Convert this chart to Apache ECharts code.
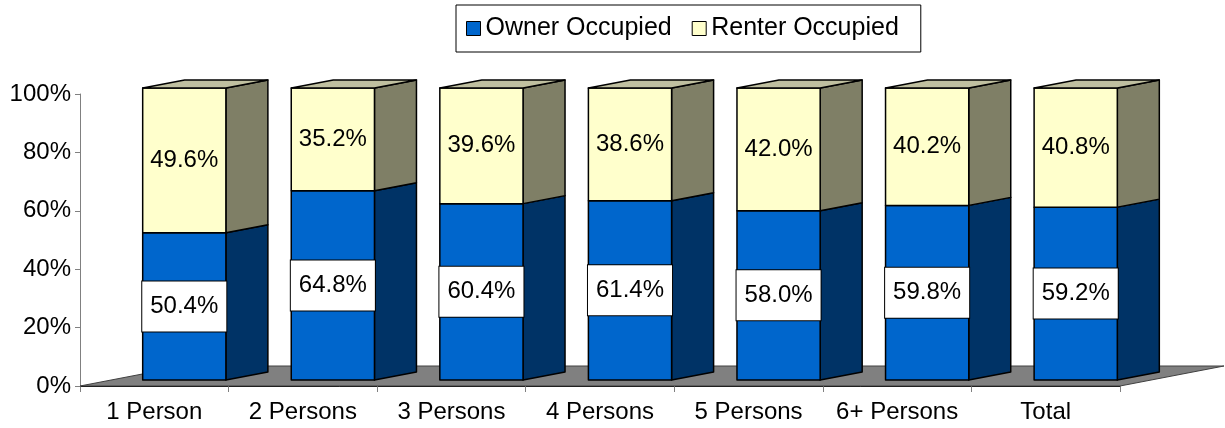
<!DOCTYPE html>
<html>
<head>
<meta charset="utf-8">
<script src="https://cdn.jsdelivr.net/npm/echarts@6/dist/echarts.min.js"></script>
<style>
html,body{margin:0;padding:0;background:#fff;}
#chart{width:1225px;height:428px;}
</style>
</head>
<body>
<div id="chart"></div>
<script>
const categories = ['1 Person', '2 Persons', '3 Persons', '4 Persons', '5 Persons', '6+ Persons', 'Total'];
const ownerValues = [50.4, 64.8, 60.4, 61.4, 58.0, 59.8, 59.2];
const renterValues = [49.6, 35.2, 39.6, 38.6, 42.0, 40.2, 40.8];
const seriesNames = ['Owner Occupied', 'Renter Occupied'];
const yTicks = [0, 20, 40, 60, 80, 100];

const FONT = '"Liberation Sans", Arial, sans-serif';
const BAR_FRAC = 0.56;
const SHIFT_X = 30;
const SHIFT_Y = -6;
const DX = 42, DY = -8;
const FLOOR_DX = 104, FLOOR_DY = -20;

const chart = echarts.init(document.getElementById('chart'), null, {renderer: 'canvas'});

function makeBar(colors, withTop, boxed) {
  return function (params, api) {
    const i = api.value(0), lo = api.value(1), hi = api.value(2), v = api.value(3);
    const base = api.coord([i, lo]);
    const top = api.coord([i, hi]);
    const band = api.size([1, 0])[0];
    const w = band * BAR_FRAC;
    const x0 = base[0] - w / 2 + SHIFT_X, x1 = x0 + w;
    const yb = base[1] + SHIFT_Y, yt = top[1] + SHIFT_Y;
    const stroke = {stroke: '#000', lineWidth: 1.5, lineJoin: 'round'};
    const children = [
      {type: 'polygon', shape: {points: [[x1, yb], [x1, yt], [x1 + DX, yt + DY], [x1 + DX, yb + DY]]},
       style: Object.assign({fill: colors.side}, stroke)},
      {type: 'rect', shape: {x: x0, y: yt, width: w, height: yb - yt},
       style: Object.assign({fill: colors.front}, stroke)}
    ];
    if (withTop) {
      children.push({type: 'polygon', shape: {points: [[x0, yt], [x1, yt], [x1 + DX, yt + DY], [x0 + DX, yt + DY]]},
        style: Object.assign({fill: colors.top}, stroke)});
    }
    const txtStyle = {
      text: v.toFixed(1) + '%', x: (x0 + x1) / 2, y: (yb + yt) / 2,
      align: 'center', verticalAlign: 'middle',
      fontSize: 24, fontFamily: FONT, fill: '#000'
    };
    if (boxed) {
      Object.assign(txtStyle, {backgroundColor: '#fff', borderColor: '#000', borderWidth: 1, padding: [13, 8], lineHeight: 24});
    }
    children.push({type: 'text', style: txtStyle, z2: 10});
    return {type: 'group', children: children};
  };
}

const ownerData = categories.map((c, i) => [i, 0, ownerValues[i], ownerValues[i]]);
const renterData = categories.map((c, i) => [i, ownerValues[i], ownerValues[i] + renterValues[i], renterValues[i]]);

const option = {
  backgroundColor: '#fff',
  animation: false,
  legend: {
    data: seriesNames,
    left: 456, top: 5,
    padding: [11, 22, 11, 10],
    backgroundColor: '#fff',
    borderColor: '#000', borderWidth: 1,
    icon: 'rect', itemWidth: 14, itemHeight: 14, itemGap: 20,
    itemStyle: {borderColor: '#000', borderWidth: 1},
    textStyle: {fontSize: 25, fontFamily: FONT, color: '#000', lineHeight: 25}
  },
  grid: {left: 80, right: 105, top: 94, bottom: 42, containLabel: false},
  xAxis: {
    type: 'category', data: categories, boundaryGap: true,
    axisLine: {show: true, lineStyle: {color: '#000', width: 1}},
    axisTick: {show: true, interval: 0, length: 6, lineStyle: {color: '#808080'}},
    axisLabel: {fontSize: 24, fontFamily: FONT, color: '#000', margin: 14, interval: 0},
    splitLine: {show: false}
  },
  yAxis: {
    type: 'value', min: yTicks[0], max: yTicks[yTicks.length - 1], interval: 20,
    axisLine: {show: true, lineStyle: {color: '#808080', width: 1}},
    axisTick: {show: true, length: 5, lineStyle: {color: '#808080'}},
    axisLabel: {fontSize: 24, fontFamily: FONT, color: '#000', margin: 9, formatter: '{value}%'},
    splitLine: {show: false}
  },
  series: [
    {
      type: 'custom', silent: true, z: 1,
      data: [[0, 0]],
      encode: {x: 0, y: 1},
      renderItem: function (params, api) {
        const cs = params.coordSys;
        const fy = cs.y + cs.height, fx0 = cs.x, fx1 = cs.x + cs.width;
        return {type: 'polygon', shape: {points: [[fx0, fy], [fx1, fy], [fx1 + FLOOR_DX, fy + FLOOR_DY], [fx0 + FLOOR_DX, fy + FLOOR_DY]]},
          style: {fill: '#808080', stroke: '#404040', lineWidth: 1}};
      }
    },
    {
      name: seriesNames[0], type: 'custom', z: 2,
      itemStyle: {color: '#0066CC'},
      data: ownerData, encode: {x: 0, y: [1, 2]},
      renderItem: makeBar({front: '#0066CC', side: '#003366', top: '#0066CC'}, false, true)
    },
    {
      name: seriesNames[1], type: 'custom', z: 3,
      itemStyle: {color: '#FFFFCC'},
      data: renterData, encode: {x: 0, y: [1, 2]},
      renderItem: makeBar({front: '#FFFFCC', side: '#7F7F66', top: '#C0C0A0'}, true, false)
    }
  ]
};
chart.setOption(option);
</script>
</body>
</html>
